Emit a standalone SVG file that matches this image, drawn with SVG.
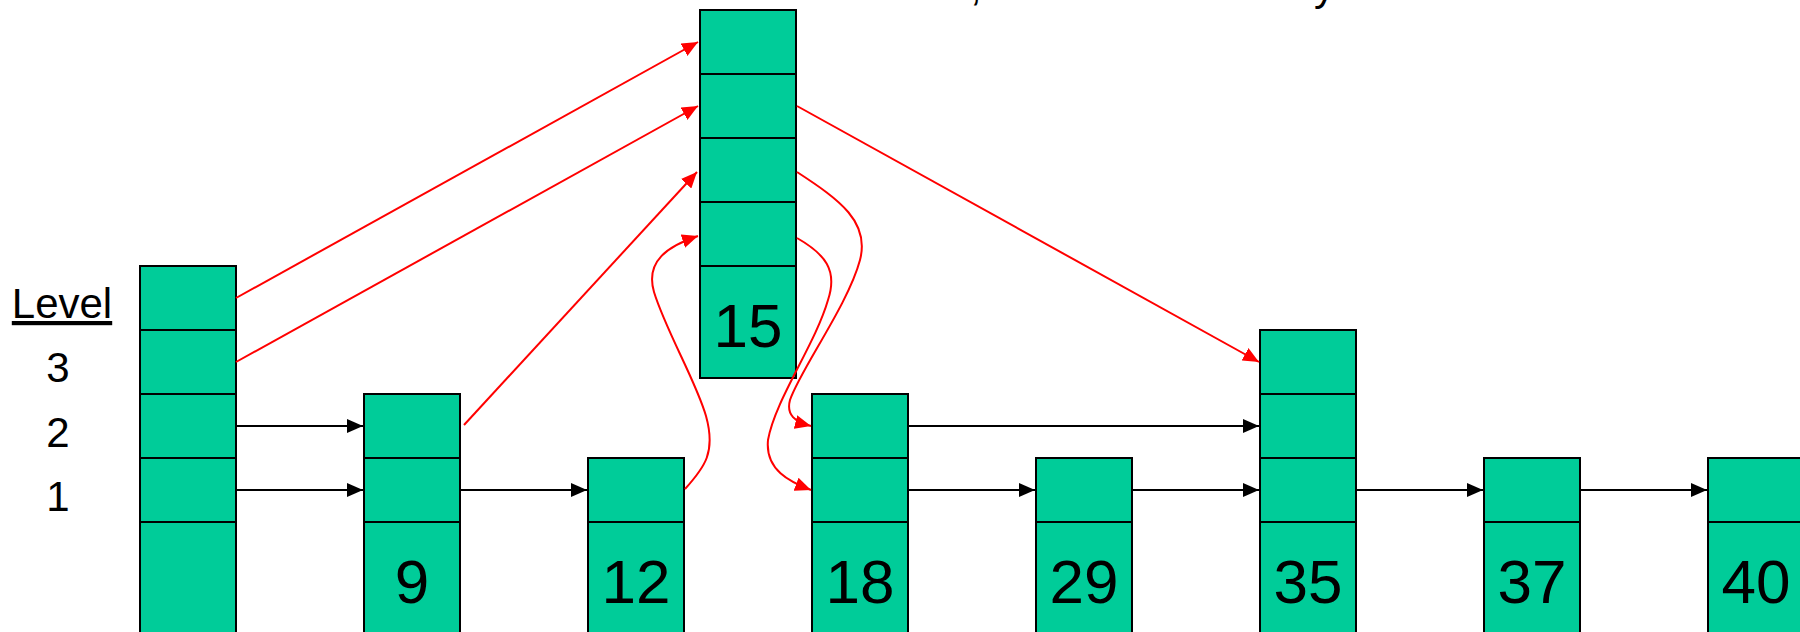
<svg xmlns="http://www.w3.org/2000/svg" width="1800" height="632" viewBox="0 0 1800 632">
<style>
.cell{fill:#00CC99;stroke:#000;stroke-width:2}
.val{font-family:"Liberation Sans",Arial,sans-serif;font-size:62px;fill:#000;text-anchor:middle}
.lbl{font-family:"Liberation Sans",Arial,sans-serif;font-size:42px;fill:#000;text-anchor:middle}
.blk{stroke:#000;stroke-width:2;fill:none;marker-end:url(#ab)}
.red{stroke:#FF0000;stroke-width:2;fill:none;marker-end:url(#ar)}
</style>
<defs>
<marker id="ab" viewBox="0 0 16 14" refX="16" refY="7" markerWidth="16" markerHeight="14" markerUnits="userSpaceOnUse" orient="auto"><path d="M0,0 L16,7 L0,14 z" fill="#000"/></marker>
<marker id="ar" viewBox="0 0 16 14" refX="16" refY="7" markerWidth="16" markerHeight="14" markerUnits="userSpaceOnUse" orient="auto"><path d="M0,0 L16,7 L0,14 z" fill="#FF0000"/></marker>
</defs>
<rect width="1800" height="632" fill="#fff"/>
<g id="title-fragment">
<text class="lbl" x="970" y="0" style="text-anchor:start">,</text>
<text class="lbl" x="1314" y="0" style="text-anchor:start">y</text>
</g>
<g id="level-labels">
<text class="lbl" x="62" y="318" text-decoration="underline">Level</text>
<text class="lbl" x="58" y="382">3</text>
<text class="lbl" x="58" y="447">2</text>
<text class="lbl" x="58" y="511">1</text>
</g>
<g id="node-header">
<rect class="cell" x="140" y="266" width="96" height="64"/>
<rect class="cell" x="140" y="330" width="96" height="64"/>
<rect class="cell" x="140" y="394" width="96" height="64"/>
<rect class="cell" x="140" y="458" width="96" height="64"/>
<rect class="cell" x="140" y="522" width="96" height="112"/>
</g>
<g id="node-9">
<rect class="cell" x="364" y="394" width="96" height="64"/>
<rect class="cell" x="364" y="458" width="96" height="64"/>
<rect class="cell" x="364" y="522" width="96" height="112"/>
<text class="val" x="412" y="603">9</text>
</g>
<g id="node-12">
<rect class="cell" x="588" y="458" width="96" height="64"/>
<rect class="cell" x="588" y="522" width="96" height="112"/>
<text class="val" x="636" y="603">12</text>
</g>
<g id="node-15">
<rect class="cell" x="700" y="10" width="96" height="64"/>
<rect class="cell" x="700" y="74" width="96" height="64"/>
<rect class="cell" x="700" y="138" width="96" height="64"/>
<rect class="cell" x="700" y="202" width="96" height="64"/>
<rect class="cell" x="700" y="266" width="96" height="112"/>
<text class="val" x="748" y="347">15</text>
</g>
<g id="node-18">
<rect class="cell" x="812" y="394" width="96" height="64"/>
<rect class="cell" x="812" y="458" width="96" height="64"/>
<rect class="cell" x="812" y="522" width="96" height="112"/>
<text class="val" x="860" y="603">18</text>
</g>
<g id="node-29">
<rect class="cell" x="1036" y="458" width="96" height="64"/>
<rect class="cell" x="1036" y="522" width="96" height="112"/>
<text class="val" x="1084" y="603">29</text>
</g>
<g id="node-35">
<rect class="cell" x="1260" y="330" width="96" height="64"/>
<rect class="cell" x="1260" y="394" width="96" height="64"/>
<rect class="cell" x="1260" y="458" width="96" height="64"/>
<rect class="cell" x="1260" y="522" width="96" height="112"/>
<text class="val" x="1308" y="603">35</text>
</g>
<g id="node-37">
<rect class="cell" x="1484" y="458" width="96" height="64"/>
<rect class="cell" x="1484" y="522" width="96" height="112"/>
<text class="val" x="1532" y="603">37</text>
</g>
<g id="node-40">
<rect class="cell" x="1708" y="458" width="96" height="64"/>
<rect class="cell" x="1708" y="522" width="96" height="112"/>
<text class="val" x="1756" y="603">40</text>
</g>
<g id="connectors">
<line class="blk" x1="237" y1="426" x2="363" y2="426"/>
<line class="blk" x1="909" y1="426" x2="1259" y2="426"/>
<line class="blk" x1="237" y1="490" x2="363" y2="490"/>
<line class="blk" x1="461" y1="490" x2="587" y2="490"/>
<line class="blk" x1="909" y1="490" x2="1035" y2="490"/>
<line class="blk" x1="1133" y1="490" x2="1259" y2="490"/>
<line class="blk" x1="1357" y1="490" x2="1483" y2="490"/>
<line class="blk" x1="1581" y1="490" x2="1707" y2="490"/>
<line class="red" x1="236" y1="298" x2="698" y2="42"/>
<line class="red" x1="236" y1="362" x2="698" y2="106"/>
<line class="red" x1="464" y1="425" x2="697" y2="172"/>
<line class="red" x1="797" y1="106" x2="1259" y2="362"/>
<path class="red" d="M685,489 C705,467 716,452 706,416 C696,381 666,331 654,292 C645,261 668,246 698,236"/>
<path class="red" d="M797,238 C825,254 838,270 828,300 C815,345 775,400 768,440 C765,470 790,482 811,490"/>
<path class="red" d="M797,172 C840,200 870,222 860,260 C848,305 800,370 790,400 C786,415 795,422 811,426"/>
</g>
</svg>
